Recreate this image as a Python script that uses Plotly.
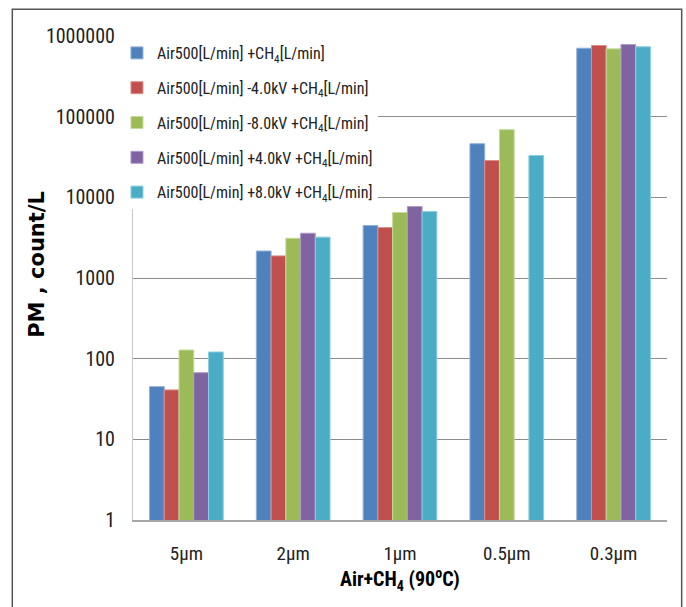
import plotly.graph_objects as go

categories = ["5µm", "2µm", "1µm", "0.5µm", "0.3µm"]
series_names = [
    "Air500[L/min] +CH<sub>4</sub>[L/min]",
    "Air500[L/min] -4.0kV +CH<sub>4</sub>[L/min]",
    "Air500[L/min] -8.0kV +CH<sub>4</sub>[L/min]",
    "Air500[L/min] +4.0kV +CH<sub>4</sub>[L/min]",
    "Air500[L/min] +8.0kV +CH<sub>4</sub>[L/min]",
]
base = [45, 2160, 4470, 46200, 706000]
neg4 = [41, 1880, 4220, 28600, 762000]
neg8 = [128, 3110, 6480, 69000, 693000]
pos4 = [67, 3590, 7690, None, 784000]
pos8 = [121, 3210, 6670, 33000, 735000]
series_values = [base, neg4, neg8, pos4, pos8]
colors = ["#4F81BD", "#C0504D", "#9BBB59", "#8064A2", "#4BACC6"]
edge_colors = ["#8FB0DA", "#DA8E8C", "#C4DA98", "#AD9AC6", "#8CCEDF"]

ytick_vals = [1, 10, 100, 1000, 10000, 100000, 1000000]
ytick_text = ["1", "10", "100", "1000", "10000", "100000", "1000000"]

FONT = "Liberation Sans Narrow, Roboto Condensed, Arial Narrow, sans-serif"

fig = go.Figure()
for i, (name, vals) in enumerate(zip(series_names, series_values)):
    fig.add_trace(go.Bar(
        x=categories, y=vals, name=name,
        marker=dict(color=colors[i], line=dict(color=edge_colors[i], width=1)),
        legendgroup=f"g{i}",
    ))

fig.update_layout(
    width=686, height=607,
    margin=dict(l=133, r=19, t=36, b=87),
    paper_bgcolor="white", plot_bgcolor="white",
    barmode="group", bargap=0.31, bargroupgap=0,
    font=dict(family=FONT, size=16, color="#222222"),
    showlegend=True,
    legend=dict(
        x=-0.03, y=1.0, xanchor="left", yanchor="top",
        bgcolor="white", font=dict(family=FONT, size=16, color="#222222"),
        tracegroupgap=11, itemwidth=30,
    ),
    xaxis=dict(
        showgrid=False, showline=True, linecolor="#A6A6A6", linewidth=1.5,
        ticks="", ticklabelstandoff=15,
        tickfont=dict(family=FONT, size=19, color="#222222"),
    ),
    yaxis=dict(
        type="log", range=[0, 6],
        tickvals=ytick_vals, ticktext=ytick_text,
        showgrid=True, gridcolor="#8C8C8C", gridwidth=1,
        showline=True, linecolor="#C8C8C8", linewidth=1,
        ticks="", ticklabelstandoff=13,
        tickfont=dict(family=FONT, size=20, color="#222222"),
        zeroline=False,
    ),
    annotations=[
        dict(text="PM , count/L", xref="paper", yref="paper",
             x=-0.179, y=0.528, xanchor="center", yanchor="middle",
             textangle=-90, showarrow=False,
             font=dict(family="DejaVu Sans, Arial, sans-serif", size=21, color="#000000", weight="bold")),
        dict(text="<b>Air+CH<sub>4</sub> (90<sup>o</sup>C)</b>", xref="paper", yref="paper",
             x=0.5, y=-0.122, xanchor="center", yanchor="middle",
             showarrow=False, font=dict(family=FONT, size=20, color="#000000")),
    ],
    shapes=[
        dict(type="rect", xref="paper", yref="paper", x0=-0.03, x1=0.4625, y0=0.644, y1=1.0,
             fillcolor="white", line=dict(width=0), layer="between"),
        dict(type="rect", xref="paper", yref="paper", x0=-0.226, x1=1.0275, y0=-0.3, y1=1.0552,
             line=dict(color="#555555", width=1.5), fillcolor="rgba(0,0,0,0)"),
    ],
)

fig.write_html("out.html")
